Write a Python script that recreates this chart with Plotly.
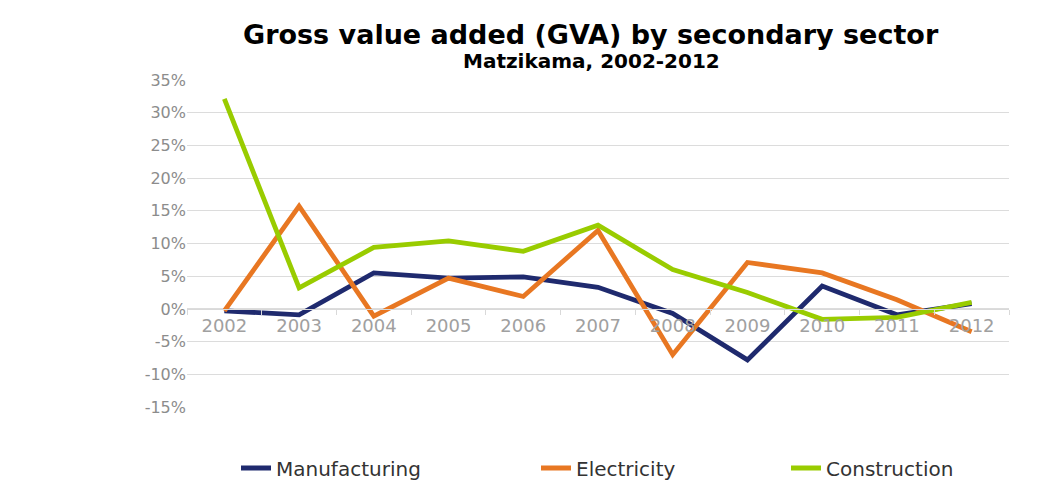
import plotly.graph_objects as go

# Annual GVA growth by secondary sector, Matzikama
years = ["2002", "2003", "2004", "2005", "2006", "2007", "2008", "2009", "2010", "2011", "2012"]
manufacturing = [-0.3, -0.9, 5.5, 4.7, 4.9, 3.3, -0.7, -7.8, 3.5, -0.9, 0.8]
electricity = [-0.3, 15.7, -1.1, 4.7, 1.9, 12.0, -7.0, 7.1, 5.5, 1.4, -3.5]
construction = [32.1, 3.2, 9.4, 10.4, 8.8, 12.8, 6.0, 2.5, -1.6, -1.3, 1.0]
y_ticks = [-15, -10, -5, 0, 5, 10, 15, 20, 25, 30, 35]
y_tick_labels = ["-15%", "-10%", "-5%", "0%", "5%", "10%", "15%", "20%", "25%", "30%", "35%"]

# name, values, colour, legend id, legend left edge (px)
series = [
    ("Manufacturing", manufacturing, "#1f2a6e", "legend", 236),
    ("Electricity", electricity, "#e87722", "legend2", 536),
    ("Construction", construction, "#99cc00", "legend3", 786),
]

fig = go.Figure()
for name, values, color, leg, _ in series:
    fig.add_trace(go.Scatter(
        x=years, y=values, name=name, mode="lines",
        line=dict(color=color, width=4.8), legend=leg,
    ))

font_family = "DejaVu Sans, Verdana, sans-serif"
W, H = 1050, 480

legends = {}
for _, _, _, leg, left in series:
    legends[leg] = dict(
        orientation="h",
        xref="container", x=left / W, xanchor="left",
        yref="container", y=1 - 468 / H, yanchor="middle",
        font=dict(size=20, color="#333333"),
        itemwidth=30, bgcolor="rgba(0,0,0,0)",
    )

fig.update_layout(
    width=W, height=H,
    margin=dict(l=187, r=41, t=80, b=73),
    paper_bgcolor="white", plot_bgcolor="white",
    font=dict(family=font_family),
    showlegend=True,
    **legends,
    xaxis=dict(
        type="category",
        range=[-0.5, 10.5],
        anchor="free", position=0.3,
        showline=True, linecolor="#d9d9d9", linewidth=1,
        ticks="outside", tickson="boundaries", ticklen=5, tickcolor="#d9d9d9",
        showgrid=False, zeroline=False,
        tickfont=dict(size=18, color="#a0a0a0"),
    ),
    yaxis=dict(
        range=[-15, 35],
        tickmode="array", tickvals=y_ticks, ticktext=y_tick_labels,
        showgrid=True, gridcolor="#dcdcdc", gridwidth=1,
        zeroline=False, showline=False,
        tickfont=dict(size=16, color="#8c8c8c"),
    ),
    annotations=[
        dict(text="<b>Gross value added (GVA) by secondary sector</b>",
             xref="paper", yref="paper", x=0.492, y=1, yshift=46,
             xanchor="center", yanchor="middle", showarrow=False,
             font=dict(size=27, color="#000000")),
        dict(text="<b>Matzikama, 2002-2012</b>",
             xref="paper", yref="paper", x=0.492, y=1, yshift=19,
             xanchor="center", yanchor="middle", showarrow=False,
             font=dict(size=20, color="#000000")),
    ],
)

fig.write_html("out.html")
